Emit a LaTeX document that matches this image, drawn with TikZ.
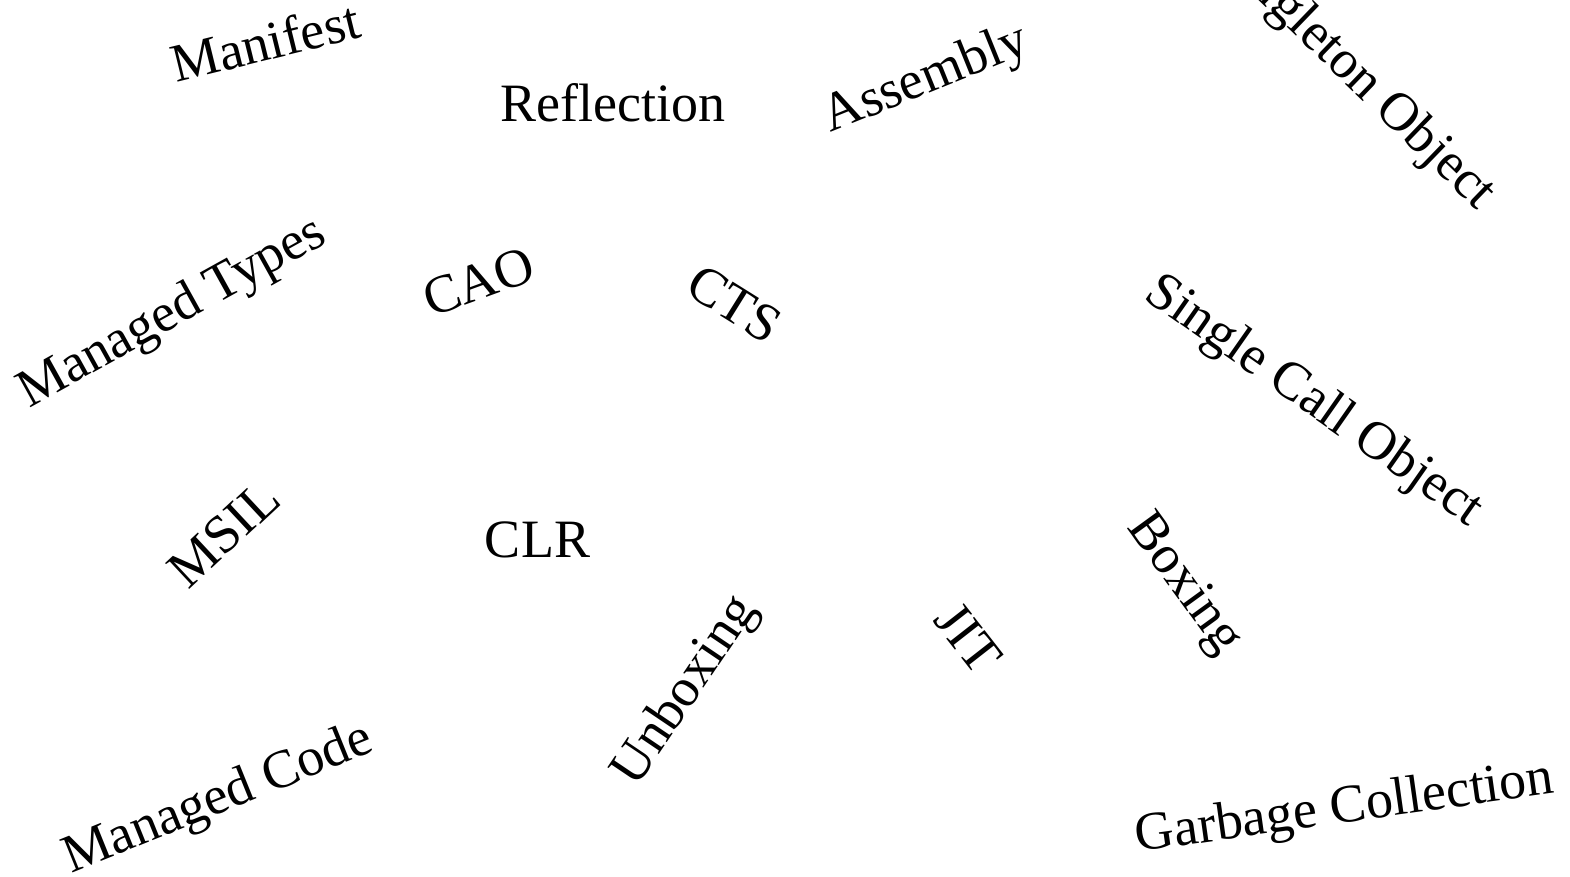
\documentclass[tikz,border=0pt]{standalone}
\usepackage{fontspec}
\setmainfont{Liberation Serif}
\begin{document}
\begin{tikzpicture}[x=1pt,y=1pt,
  word/.style={inner sep=0pt, outer sep=0pt, anchor=base,
    font=\fontsize{54}{60}\selectfont, text=black}]
\useasboundingbox (0,0) rectangle (1570,876);
\clip (0,0) rectangle (1570,876);
\fill[white] (0,0) rectangle (1570,876);
% words of the cloud: baseline midpoint and rotation
\node[word, rotate=13.8] (manifest)   at (270,816.2)   {Manifest};
\node[word]              (reflection) at (613,754)     {Reflection};
\node[word, rotate=22]   (assembly)   at (931,783.5)   {Assembly};
\node[word, rotate=-44]  (singleton)  at (1346.3,791.3) {Singleton Object};
\node[word, rotate=29]   (mtypes)     at (179,551)     {Managed Types};
\node[word, rotate=20]   (cao)        at (484.6,577.5) {CAO};
\node[word, rotate=-32]  (cts)        at (725,557)     {CTS};
\node[word, rotate=-35]  (singlecall) at (1305.8,463.5) {Single Call Object};
\node[word, rotate=43]   (msil)       at (236,329.4)   {MSIL};
\node[word]              (clr)        at (537.5,319)   {CLR};
\node[word, rotate=56]   (unboxing)   at (697,177.4)   {Unboxing};
\node[word, rotate=-52]  (jit)        at (955,227)     {JIT};
\node[word, rotate=-54]  (boxing)     at (1173.5,284)  {Boxing};
\node[word, rotate=22]   (mcode)      at (223.7,64)    {Managed Code};
\node[word, rotate=8]    (gc)         at (1346.5,53.5) {Garbage Collection};
\end{tikzpicture}
\end{document}
